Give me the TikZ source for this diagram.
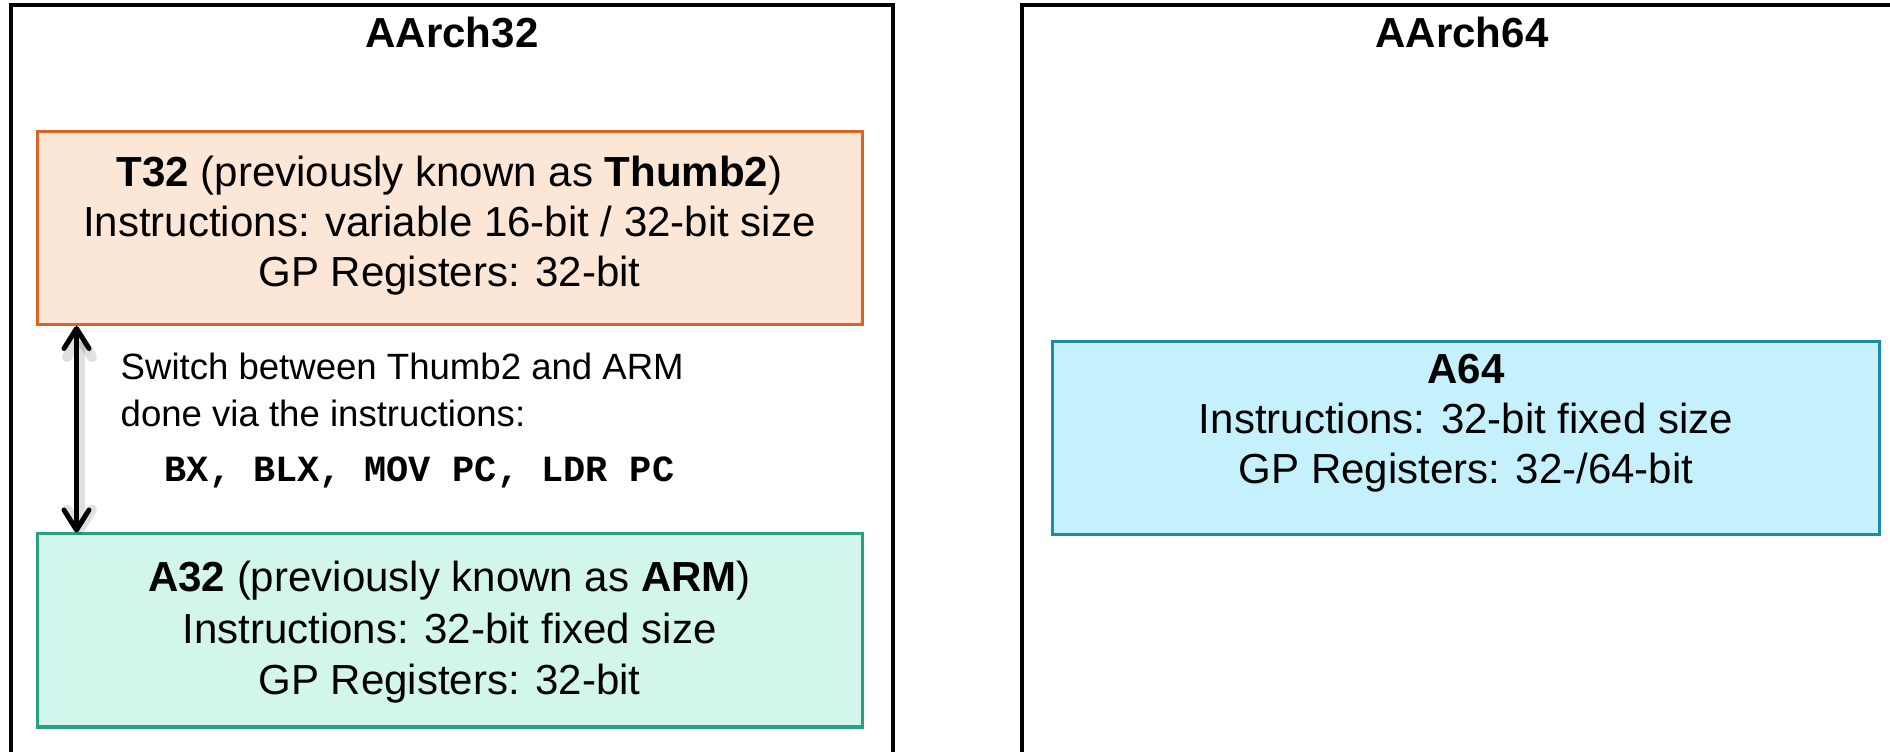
\documentclass[tikz,border=0pt]{standalone}
\usepackage{fontspec}
\setmainfont{Liberation Sans}
\setmonofont{Liberation Mono}
\usetikzlibrary{fit,arrows.meta,calc}
\definecolor{orbd}{HTML}{D9661E}
\definecolor{orfill}{HTML}{FCE6D5}
\definecolor{grbd}{HTML}{27A083}
\definecolor{grfill}{HTML}{D2F5EC}
\definecolor{blbd}{HTML}{1A8CAA}
\definecolor{blfill}{HTML}{C5F1FD}
\begin{document}
\begin{tikzpicture}[x=0.01cm,y=-0.01cm,
  outer/.style={draw=black,line width=0.04cm,inner sep=0pt},
  t32box/.style={draw=orbd,fill=orfill,line width=0.03cm,inner sep=0pt},
  a32box/.style={draw=grbd,fill=grfill,line width=0.03cm,inner sep=0pt},
  a64box/.style={draw=blbd,fill=blfill,line width=0.03cm,inner sep=0pt},
  big/.style={font=\fontsize{11.95pt}{14.2pt}\selectfont, anchor=base, inner sep=0pt},
  ttl/.style={font=\fontsize{11.95pt}{14.2pt}\selectfont\bfseries, anchor=base, inner sep=0pt},
  small/.style={font=\fontsize{10.4pt}{12pt}\selectfont, anchor=base west, inner sep=0pt},
  code/.style={font=\fontsize{10.5pt}{12pt}\selectfont\ttfamily\bfseries, anchor=base west, inner sep=0pt},
  arr/.style={{Straight Barb[length=0.2cm,width=0.25cm,round]}-{Straight Barb[length=0.2cm,width=0.25cm,round]}, line width=0.05cm},
  shadowarr/.style={arr, draw=black, opacity=0.12, line width=0.10cm},
]
\useasboundingbox (0,0) rectangle (1890,752);
% outer panels
\node[outer, fit={(11,5.5) (893,780)}] (aarch32) {};
\node[outer, fit={(1022,5.5) (1910,780)}] (aarch64) {};
\node[ttl] (t32title) at (452,48) {AArch32};
\node[ttl] (t64title) at (1462,48) {AArch64};
% T32
\node[t32box, fit={(37.5,132) (862,324.5)}] (t32) {};
\node[big] (t32l1) at (449.5,187) {\textbf{T32} (previously known as \textbf{Thumb2})};
\node[big] (t32l2) at (449.5,237) {Instructions: variable 16-bit / 32-bit size};
\node[big] (t32l3) at (449.5,287) {GP Registers: 32-bit};
% A32
\node[a32box, fit={(37.5,534) (862,727)}] (a32) {};
\node[big] (a32l1) at (449.5,592) {\textbf{A32} (previously known as \textbf{ARM})};
\node[big] (a32l2) at (449.5,643) {Instructions: 32-bit fixed size};
\node[big] (a32l3) at (449.5,695) {GP Registers: 32-bit};
% switch text
\node[small] (sw1) at (120,380) {Switch between Thumb2 and ARM};
\node[small] (sw2) at (120,427) {done via the instructions:};
\node[code] (sw3) at (164,482) {BX, BLX, MOV PC, LDR PC};
% arrow with soft shadow
\coordinate (ax) at (76.5,0);
\draw[shadowarr] ($(t32.south -| ax)+(3,6)$) -- ($(a32.north -| ax)+(3,2)$);
\draw[arr] (t32.south -| ax) -- (a32.north -| ax);
% A64
\node[a64box, fit={(1052.5,342) (1879,535)}] (a64) {};
\node[ttl] (a64l1) at (1466,384) {A64};
\node[big] (a64l2) at (1466,434) {Instructions: 32-bit fixed size};
\node[big] (a64l3) at (1466,484) {GP Registers: 32-/64-bit};
\end{tikzpicture}
\end{document}
